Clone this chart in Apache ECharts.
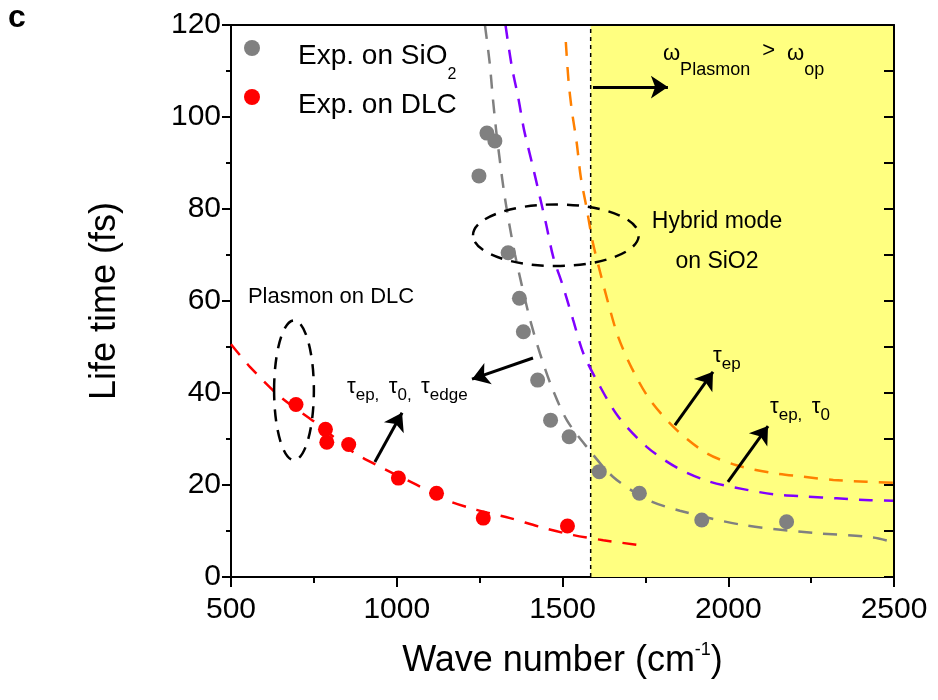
<!DOCTYPE html>
<html>
<head>
<meta charset="utf-8">
<script src="https://cdn.jsdelivr.net/npm/echarts@6/dist/echarts.min.js"></script>
<style>
  html, body { margin: 0; padding: 0; background: #fff; }
  #chart { width: 938px; height: 700px; }
</style>
</head>
<body>
<div id="chart"></div>
<script>
// measured points
var sio2Exp = [[1248, 87.2], [1272, 96.5], [1296, 94.8], [1336, 70.5], [1370, 60.6], [1382, 53.3],
  [1425, 42.8], [1464, 34.1], [1520, 30.5], [1611, 22.9], [1732, 18.2], [1920, 12.4], [2176, 12.0]];
var dlcExp = [[696, 37.5], [785, 32.1], [789, 29.3], [855, 28.8], [1005, 21.5], [1120, 18.2],
  [1261, 12.8], [1515, 11.1]];

// dashed model curves
var fitDlc = [[500, 50.6], [557, 45.7], [648, 39.2], [758, 33.4], [868, 27.2], [940, 24.3], [1050, 20.4],
  [1151, 16.7], [1241, 14.6], [1342, 12.8], [1432, 10.9], [1533, 9.1], [1623, 8.0], [1724, 7.0], [1745, 6.8]];
var fitSio2 = [[1266, 120], [1280, 112], [1290, 104], [1300, 97], [1312, 90], [1325, 83], [1340, 76.5],
  [1357, 70], [1377, 63.5], [1402, 56], [1432, 48.6], [1467, 41.4], [1513, 34.1], [1573, 28.3], [1652, 21.8],
  [1754, 16.9], [1854, 14.4], [2045, 11.3], [2256, 9.6], [2437, 8.6], [2500, 7.5]];
var fitEp0 = [[1328, 120], [1347, 111], [1367, 104], [1384, 97.2], [1407, 90.3], [1427, 84.1], [1450, 76.9],
  [1472, 69.6], [1502, 63.1], [1532, 55.9], [1563, 48.6], [1608, 42.1], [1668, 34.9], [1754, 28.3],
  [1849, 23.6], [1945, 20.7], [2045, 19.1], [2136, 18.0], [2237, 17.5], [2327, 17.1], [2428, 16.7], [2500, 16.6]];
var fitEp = [[1510, 116.3], [1518, 108], [1528, 101.5], [1543, 94.3], [1555, 87], [1573, 80.1], [1591, 72.9],
  [1613, 66.4], [1640, 59], [1668, 52.2], [1709, 45.4], [1764, 38.5], [1844, 32.0], [1935, 26.9], [2025, 24.3],
  [2126, 22.7], [2226, 21.8], [2317, 21.1], [2417, 20.7], [2500, 20.5]];

var plasmonLimit = 1585;
var xMin = 500, xMax = 2500, yMin = 0, yMax = 120;
var rightTicks = [10, 20, 30, 40, 50, 60, 70, 80, 90, 100, 110];

// annotation arrows, [from, to] in data units
var arrows = [
  [[1592, 106.5], [1818, 106.5]],
  [[1411, 47.6], [1227, 43.0]],
  [[934, 25.0], [1016, 35.7]],
  [[1839, 33.0], [1954, 44.6]],
  [[1999, 20.7], [2120, 32.8]]
];

var font = 'Liberation Sans, Arial, sans-serif';
var chart = echarts.init(document.getElementById('chart'));

var subStyle = { fontFamily: font, fontSize: 17, lineHeight: 16, verticalAlign: 'top', padding: [11, 0, 0, 0], color: '#000' };
var tauStyle = { fontFamily: font, fontSize: 22, lineHeight: 22, verticalAlign: 'top', color: '#000' };

var option = {
  animation: false,
  backgroundColor: '#fff',
  grid: { left: 231, right: 44, top: 25, bottom: 123 },
  legend: {
    orient: 'vertical',
    left: 244,
    top: 34,
    padding: 0,
    itemWidth: 16,
    itemHeight: 16,
    itemGap: 0,
    icon: 'circle',
    selectedMode: false,
    data: ['Exp. on SiO2', 'Exp. on DLC'],
    formatter: function (n) {
      return n === 'Exp. on SiO2' ? '{a|Exp. on SiO}{s|2}' : '{a|Exp. on DLC}{s| }';
    },
    textStyle: {
      padding: [0, 0, 0, 33],
      rich: {
        a: { fontFamily: font, fontSize: 28, lineHeight: 28, padding: [8, 0, 9, 0], color: '#000', verticalAlign: 'top' },
        s: { fontFamily: font, fontSize: 16, lineHeight: 12, padding: [33, 0, 0, 0], color: '#000', verticalAlign: 'top' }
      }
    }
  },
  xAxis: [{
    type: 'value', min: xMin, max: xMax, interval: 500,
    name: '{a|Wave number (cm}{b|-1}{a|)}',
    nameLocation: 'middle', nameGap: 60,
    nameTextStyle: {
      rich: {
        a: { fontFamily: font, fontSize: 36, lineHeight: 36, padding: [6, 0, 0, 0], verticalAlign: 'top', color: '#000' },
        b: { fontFamily: font, fontSize: 18, lineHeight: 18, padding: [4, 0, 0, 0], verticalAlign: 'top', color: '#000' }
      }
    },
    axisLine: { lineStyle: { color: '#000', width: 2 } },
    axisTick: { length: 10, lineStyle: { color: '#000', width: 2 } },
    minorTick: { show: true, splitNumber: 2, length: 6, lineStyle: { color: '#000', width: 2 } },
    splitLine: { show: false },
    axisLabel: { fontFamily: font, fontSize: 30, color: '#000', margin: 18,
      formatter: function (v) { return String(v); } }
  }, {
    type: 'value', min: xMin, max: xMax, position: 'top', z: 10,
    axisLine: { show: true, onZero: false, lineStyle: { color: '#000', width: 2 } },
    axisTick: { show: false }, axisLabel: { show: false }, splitLine: { show: false }
  }],
  yAxis: [{
    type: 'value', min: yMin, max: yMax, interval: 20,
    name: 'Life time (fs)', nameLocation: 'middle', nameGap: 108,
    nameTextStyle: { fontFamily: font, fontSize: 36, color: '#000' },
    axisLine: { show: true, lineStyle: { color: '#000', width: 2 } },
    axisTick: { show: true, length: 9, lineStyle: { color: '#000', width: 2 } },
    minorTick: { show: true, splitNumber: 2, length: 5, lineStyle: { color: '#000', width: 2 } },
    splitLine: { show: false },
    axisLabel: { fontFamily: font, fontSize: 30, color: '#000', margin: 10 }
  }, {
    type: 'value', min: yMin, max: yMax, interval: 10, position: 'right', z: 10,
    axisLine: { show: true, onZero: false, lineStyle: { color: '#000', width: 2 } },
    axisTick: { show: true, inside: true, length: 10, lineStyle: { color: '#000', width: 2 } },
    axisLabel: { show: false }, splitLine: { show: false }
  }],
  series: [
    {
      name: 'boundary', type: 'line', z: 1, silent: true,
      data: [[plasmonLimit, yMin], [plasmonLimit, yMax]],
      symbol: 'none',
      lineStyle: { color: '#000', width: 1.5, type: [4, 4] },
      markArea: {
        silent: true,
        itemStyle: { color: '#ffff80' },
        data: [[{ xAxis: plasmonLimit }, { xAxis: xMax }]]
      },
      markLine: {
        silent: true,
        symbol: ['none', 'arrow'],
        symbolSize: 17,
        label: { show: false },
        lineStyle: { color: '#000', width: 3, type: 'solid' },
        data: arrows.map(function (a) { return [{ coord: a[0] }, { coord: a[1] }]; })
      }
    },
    { name: 'fitDlc', type: 'line', z: 3, data: fitDlc, smooth: 0.3, symbol: 'none', silent: true,
      lineStyle: { color: '#ff0000', width: 2.5, type: [14, 11] } },
    { name: 'fitSio2', type: 'line', z: 3, data: fitSio2, smooth: 0.3, symbol: 'none', silent: true,
      lineStyle: { color: '#808080', width: 2.5, type: [14, 11] } },
    { name: 'fitEp0', type: 'line', z: 3, data: fitEp0, smooth: 0.3, symbol: 'none', silent: true,
      lineStyle: { color: '#8000ff', width: 2.5, type: [14, 11] } },
    { name: 'fitEp', type: 'line', z: 3, data: fitEp, smooth: 0.3, symbol: 'none', silent: true,
      lineStyle: { color: '#ff8000', width: 2.5, type: [14, 11] } },
    { name: 'Exp. on SiO2', type: 'scatter', z: 4, data: sio2Exp, symbolSize: 15,
      itemStyle: { color: '#808080', opacity: 1 } },
    { name: 'Exp. on DLC', type: 'scatter', z: 4, data: dlcExp, symbolSize: 15,
      itemStyle: { color: '#ff0000', opacity: 1 } }
  ]
};
chart.setOption(option);

// annotations anchored in data units
function px(p) { return chart.convertToPixel({ xAxisIndex: 0, yAxisIndex: 0 }, p); }
function ellipse(c, rx, ry) {
  var o = px(c), ex = px([c[0] + rx, c[1]]), ey = px([c[0], c[1] + ry]);
  return {
    type: 'ellipse', z: 100, silent: true,
    shape: { cx: o[0], cy: o[1], rx: ex[0] - o[0], ry: o[1] - ey[1] },
    style: { fill: 'none', stroke: '#000', lineWidth: 2.5, lineDash: [12, 9] }
  };
}
function label(p, text, extra) {
  var o = px(p);
  var st = { text: text, fill: '#000', font: '22px ' + font, fontFamily: font, fontSize: 22 };
  for (var k in extra) st[k] = extra[k];
  return { type: 'text', z: 100, silent: true, x: o[0], y: o[1], style: st };
}
var tauRich = { t: tauStyle, s: subStyle };

var extras = [
  { type: 'text', z: 100, left: 8, top: 2, style: { text: 'c', fill: '#000', font: 'bold 32px ' + font } },
  ellipse([690, 40.6], 60, 15.2),
  ellipse([1480, 74.3], 250, 6.7),
  label([551, 60.9], 'Plasmon on DLC', { textVerticalAlign: 'middle', verticalAlign: 'middle' }),
  label([1966, 72.8], 'Hybrid mode\non SiO2', { fontSize: 23, font: '23px ' + font, lineHeight: 40,
    textAlign: 'center', align: 'center', textVerticalAlign: 'middle', verticalAlign: 'middle' }),
  label([1803, 116.1], '{w|ω}{s|Plasmon}{g|>}{w|ω}{s|op}', {
    rich: {
      w: { fontFamily: font, fontSize: 22, lineHeight: 22, verticalAlign: 'top', color: '#000' },
      g: { fontFamily: font, fontSize: 22, lineHeight: 22, verticalAlign: 'top', padding: [-3, 12, 0, 12], color: '#000' },
      s: { fontFamily: font, fontSize: 18, lineHeight: 18, verticalAlign: 'top', padding: [18, 0, 0, 0], color: '#000' }
    }
  }),
  label([850, 43.7], '{t|τ}{s|ep,  }{t|τ}{s|0,  }{t|τ}{s|edge}', { rich: tauRich }),
  label([1954, 50.4], '{t|τ}{s|ep}', { rich: tauRich }),
  label([2126, 39.3], '{t|τ}{s|ep,  }{t|τ}{s|0}', { rich: tauRich })
];
// inward ticks on the right frame
rightTicks.forEach(function (v) {
  var p = px([xMax, v]);
  extras.push({
    type: 'rect', z: 100, silent: true,
    shape: { x: p[0] - 10, y: p[1] - 1, width: 10, height: 2 },
    style: { fill: '#000' }
  });
});

chart.setOption({ graphic: extras });
</script>
</body>
</html>
